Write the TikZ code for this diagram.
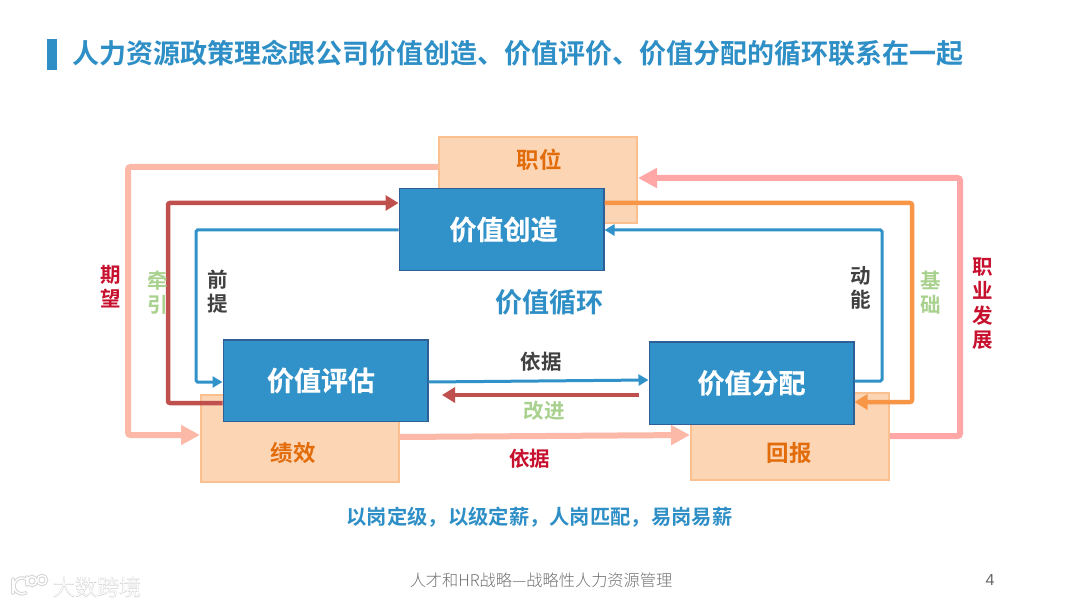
\documentclass[tikz,border=0pt]{standalone}
\usepackage{fontspec}
\setmainfont{Liberation Sans}
\newfontfamily\cjk{Noto Sans CJK SC}[BoldFont={Noto Sans CJK SC Bold}]
\newfontfamily\cjkheavy{Noto Sans CJK SC Bold}[FakeBold=0.4]
\newfontfamily\cjklight{Noto Sans CJK SC Light}
\newfontfamily\cjkhalo{Noto Sans CJK SC Light}[FakeBold=3]
\usetikzlibrary{arrows.meta}
\definecolor{titleblue}{HTML}{2E8FC6}
\definecolor{boxblue}{HTML}{3092C8}
\definecolor{boxedge}{HTML}{2F5F96}
\definecolor{softfill}{HTML}{FCD5B5}
\definecolor{softedge}{HTML}{FAC090}
\definecolor{softtext}{HTML}{E36C0A}
\definecolor{salmon}{HTML}{FDB9A8}
\definecolor{rosy}{HTML}{FFA6A6}
\definecolor{brick}{HTML}{C0504D}
\definecolor{amber}{HTML}{F79646}
\definecolor{crimson}{HTML}{C7102E}
\definecolor{leaf}{HTML}{A9D18E}
\definecolor{ink}{HTML}{404040}
\tikzset{
    bluebox/.style={draw=boxedge, line width=1.5pt, fill=boxblue, text=white, inner sep=0pt, anchor=north west, font=\cjkheavy\fontsize{27}{27}\selectfont},
    softbox/.style={draw=softedge, line width=2pt, fill=softfill, inner sep=0pt, anchor=north west},
    softtag/.style={text=softtext, inner sep=0pt, font=\cjk\bfseries\fontsize{22.5}{22.5}\selectfont},
    thinflow/.style={draw=boxblue, line width=3pt, rounded corners=1.5pt, -{Triangle[length=10pt,width=11pt]}},
    midflow/.style={line width=4.5pt, rounded corners=2pt, -{Triangle[length=13pt,width=15pt]}},
    wideflow/.style={line width=6pt, rounded corners=2.5pt, -{Triangle[length=19pt,width=19pt]}},
    sidetag/.style={font=\cjk\bfseries\fontsize{20.5}{24.5}\selectfont, align=center, inner sep=0pt},
    markhalo/.style={draw=black!16, line width=3.5pt, line cap=round},
    markline/.style={draw=white, line width=1.4pt, line cap=round}
}
\begin{document}
\begin{tikzpicture}[x=1pt, y=-1pt]
    \useasboundingbox (0,0) rectangle (1080,607);
    \fill[white] (0,0) rectangle (1080,607);
    \fill[titleblue] (47,39) rectangle (57,70);
    \node[anchor=west, text=titleblue, inner sep=0pt, font=\cjk\bfseries\fontsize{27}{27}\selectfont] (title) at (72.5,53.5)
        {人力资源政策理念跟公司价值创造、价值评价、价值分配的循环联系在一起};

    % rear boxes
    \node[softbox, minimum width=198pt, minimum height=86pt] (zhiwei) at (438,136) {};
    \node[softbox, minimum width=198pt, minimum height=87pt] (jixiao) at (200,394) {};
    \node[softbox, minimum width=198pt, minimum height=87pt] (huibao) at (690,392) {};
    \node[softtag] (zhiweitext) at (539,160) {职位};
    \node[softtag] (jixiaotext) at (293,452.5) {绩效};
    \node[softtag] (huibaotext) at (789,453) {回报};

    \coordinate (qwA) at (128,167);
    \coordinate (qwB) at (128,435);
    \coordinate (qyA) at (168,403);
    \coordinate (qyB) at (168,203);
    \coordinate (qtA) at (196,230);
    \coordinate (qtB) at (196,382);
    \coordinate (dnA) at (882,381);
    \coordinate (dnB) at (882,230);
    \coordinate (jcA) at (912,203);
    \coordinate (jcB) at (912,402);
    \coordinate (zyA) at (960,436);
    \coordinate (zyB) at (960,178);

    % outer loops
    \draw[wideflow, salmon] (zhiwei.west |- qwA) -- (qwA) -- (qwB) -- (jixiao.west |- qwB);
    \draw[wideflow, rosy] (huibao.east |- zyA) -- (zyA) -- (zyB) -- (zhiwei.east |- zyB);
    \draw[wideflow, salmon] (jixiao.east |- 0,437) -- (huibao.west |- 0,435);

    % front boxes
    \node[bluebox, minimum width=204.5pt, minimum height=81.5pt] (chuangzao) at (398.5,188) {\hspace*{4pt}\raisebox{-1pt}{价值创造}};
    \node[bluebox, minimum width=204.5pt, minimum height=81.5pt] (pinggu) at (222.5,339) {价值评估\hspace*{9pt}};
    \node[bluebox, minimum width=204.5pt, minimum height=82.5pt] (fenpei) at (648.5,341) {价值分配};

    % inner loops
    \draw[midflow, brick] (pinggu.west |- qyA) -- (qyA) -- (qyB) -- (chuangzao.west |- qyB);
    \draw[midflow, amber] (chuangzao.east |- jcA) -- (jcA) -- (jcB) -- (fenpei.east |- jcB);
    \draw[thinflow] (chuangzao.west |- qtA) -- (qtA) -- (qtB) -- (pinggu.west |- qtB);
    \draw[thinflow] (fenpei.east |- dnA) -- (dnA) -- (dnB) -- (chuangzao.east |- dnB);
    \draw[thinflow] (pinggu.east |- 0,382) -- (fenpei.west |- 0,380);
    \coordinate (gjA) at (639,395);
    \coordinate (gjB) at (442,395);
    \draw[midflow, brick] (gjA) -- (gjB);

    % labels
    \node[sidetag, text=crimson] (qiwang) at (111,286.5) {期\\望};
    \node[sidetag, text=leaf] (qianyin) at (158,292.5) {牵\\引};
    \node[sidetag, text=ink] (qianti) at (218,291.5) {前\\提};
    \node[sidetag, text=ink] (dongneng) at (861,288) {动\\能};
    \node[sidetag, text=leaf] (jichu) at (931,292.5) {基\\础};
    \node[sidetag, text=crimson] (zhiye) at (983,303.5) {职\\业\\发\\展};
    \node[sidetag, text=ink] (yiju) at (541,362) {依据};
    \node[sidetag, text=leaf] (gaijin) at (544,411) {改进};
    \node[sidetag, text=crimson] (yijuB) at (529.5,459) {依据};
    \node[text=titleblue, inner sep=0pt, font=\cjk\bfseries\fontsize{27}{27}\selectfont] (xunhuan) at (549,302) {价值循环};
    \node[text=titleblue, inner sep=0pt, font=\cjk\bfseries\fontsize{20.3}{20.3}\selectfont] (rule) at (539.5,517)
        {以岗定级^^^^ff0c以级定薪^^^^ff0c人岗匹配^^^^ff0c易岗易薪};

    % footer
    \node[text=black!55, inner sep=0pt, font=\cjklight\fontsize{16.2}{16.2}\selectfont] (footer) at (541,580.5) {人才和HR战略—战略性人力资源管理};
    \node[text=black!60, inner sep=0pt, font=\fontsize{16}{16}\selectfont] (pageno) at (990,580) {4};

    % watermark
    \draw[markhalo] (13,579) -- (13,593);
    \draw[markhalo] (26,579) arc (-60:-300:8);
    \draw[markhalo] (27,577) -- (27,585);
    \draw[markhalo] (32,581) circle (4.5);
    \draw[markhalo] (42,580) circle (4.5);
    \node[text=black!16, inner sep=0pt, font=\cjkhalo\fontsize{22}{22}\selectfont] (markhalotext) at (97,587) {大数跨境};
    \draw[markline] (13,579) -- (13,593);
    \draw[markline] (26,579) arc (-60:-300:8);
    \draw[markline] (27,577) -- (27,585);
    \draw[markline] (32,581) circle (4.5);
    \draw[markline] (42,580) circle (4.5);
    \node[text=white, inner sep=0pt, font=\cjklight\fontsize{22}{22}\selectfont] (marktext) at (97,587) {大数跨境};
\end{tikzpicture}
\end{document}
